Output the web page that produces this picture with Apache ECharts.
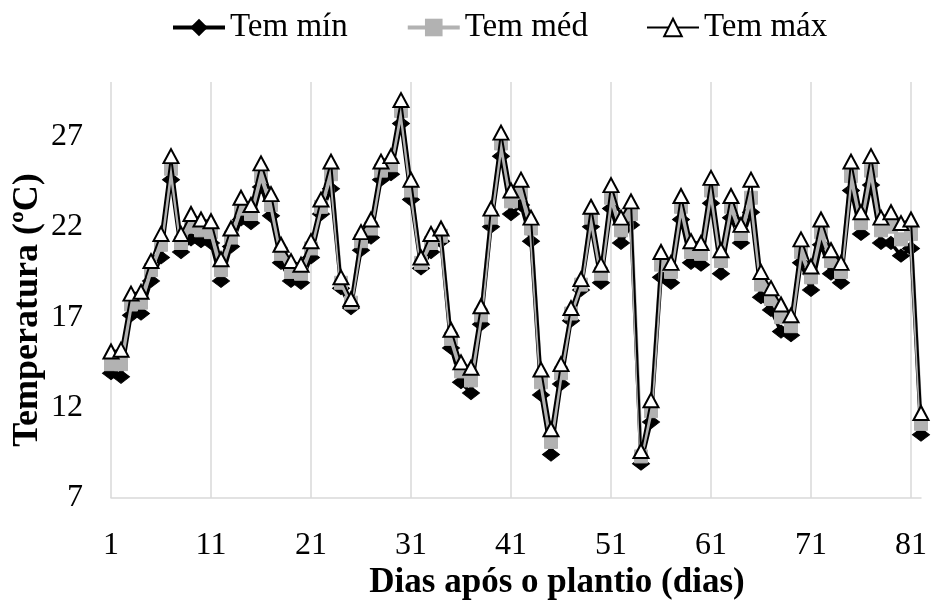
<!DOCTYPE html>
<html>
<head>
<meta charset="utf-8">
<script src="https://cdn.jsdelivr.net/npm/echarts@6/dist/echarts.min.js"></script>
<style>html,body{margin:0;padding:0;background:#fff;}#c{width:931px;height:604px;}</style>
</head>
<body>
<div id="c"></div>
<script>
const days = Array.from({length: 82}, (_, i) => String(i + 1));
const temMin = [13.9,13.7,17.1,17.2,19.0,20.3,24.6,20.6,21.3,21.2,21.1,19.0,20.9,22.4,22.2,24.2,22.6,20.0,19.0,18.9,20.3,22.7,24.1,18.6,17.5,20.7,21.4,24.6,24.9,27.7,23.5,19.7,20.6,21.2,15.3,13.4,12.8,16.6,22.0,25.9,22.7,23.2,21.2,12.7,9.4,13.3,16.8,18.5,22.0,18.9,23.0,21.1,22.1,8.9,11.2,19.2,18.9,22.4,20.0,19.9,23.3,19.4,22.5,21.1,22.8,18.1,17.4,16.2,16.0,20.0,18.5,21.0,19.4,18.9,24.0,21.6,24.3,21.1,21.1,20.4,20.8,10.5];
const temMed = [14.4,14.4,17.7,17.8,19.6,21.0,25.2,21.1,22.0,21.8,21.7,19.6,21.4,23.0,22.7,24.8,23.2,20.5,19.5,19.4,20.8,23.1,24.9,18.9,17.8,21.2,21.9,25.1,25.4,28.4,24.0,20.0,21.1,21.5,15.8,14.0,13.5,17.1,22.5,26.6,23.4,23.9,21.9,13.4,10.1,13.9,17.2,18.8,22.5,19.4,23.6,21.8,22.7,9.3,11.8,19.9,19.5,23.1,20.6,20.5,24.0,20.1,23.1,21.6,23.6,18.8,18.0,17.0,16.5,20.6,19.2,21.7,20.1,19.5,24.8,22.2,25.1,21.8,22.0,21.3,21.6,11.1];
const temMax = [15.1,15.2,18.3,18.4,20.1,21.6,25.9,21.6,22.7,22.4,22.3,20.2,21.9,23.6,23.2,25.5,23.8,21.0,20.1,19.9,21.2,23.5,25.6,19.2,18.0,21.7,22.4,25.6,25.9,29.0,24.6,20.3,21.6,21.9,16.3,14.5,14.2,17.6,23.0,27.2,24.0,24.6,22.5,14.1,10.8,14.4,17.5,19.1,23.1,19.9,24.3,22.5,23.4,9.6,12.4,20.6,20.0,23.7,21.2,21.1,24.7,20.7,23.7,22.1,24.6,19.5,18.6,17.7,17.1,21.3,19.8,22.4,20.7,20.0,25.6,22.8,25.9,22.5,22.8,22.2,22.4,11.7];
const seriesNames = ['Tem mín', 'Tem méd', 'Tem máx'];
const yTitle = 'Temperatura (ºC)';
const xTitle = 'Dias após o plantio (dias)';

const FONT = '"Liberation Serif", "Times New Roman", serif';
const chart = echarts.init(document.getElementById('c'), null, {renderer: 'canvas'});
chart.setOption({
  animation: false,
  backgroundColor: '#fff',
  legend: {
    top: 6,
    left: 166,
    itemWidth: 52,
    itemHeight: 22,
    itemGap: 58,
    textStyle: {fontFamily: FONT, fontSize: 33, color: '#000'},
    data: [
      {name: seriesNames[0], lineStyle: {width: 4, color: '#000'}},
      {name: seriesNames[1], lineStyle: {width: 4, color: '#B2B2B2'}},
      {name: seriesNames[2], lineStyle: {width: 2, color: '#000'}}
    ]
  },
  grid: {left: 111, right: 10, top: 82, bottom: 106, containLabel: false},
  xAxis: {
    type: 'category',
    data: days,
    boundaryGap: false,
    axisLine: {show: true, lineStyle: {color: '#D9D9D9', width: 1.5}},
    axisTick: {show: false},
    axisLabel: {
      interval: (i) => i % 10 === 0,
      fontFamily: FONT, fontSize: 32, color: '#000', margin: 32
    },
    splitLine: {show: true, interval: (i) => i % 10 === 0, lineStyle: {color: '#D9D9D9', width: 1.5}}
  },
  yAxis: {
    type: 'value',
    min: 7, max: 30, interval: 5,
    axisLine: {show: false},
    axisTick: {show: false},
    splitLine: {show: false},
    axisLabel: {fontFamily: FONT, fontSize: 32, color: '#000', margin: 28, showMaxLabel: false}
  },
  graphic: [
    {type: 'text', x: 28, y: 310, rotation: Math.PI / 2,
     style: {text: yTitle, fontFamily: FONT, fontSize: 36, fontWeight: 'bold', fill: '#000', textAlign: 'center', textVerticalAlign: 'middle'}},
    {type: 'text', x: 557, y: 583,
     style: {text: xTitle, fontFamily: FONT, fontSize: 35, fontWeight: 'bold', fill: '#000', textAlign: 'center', textVerticalAlign: 'middle'}}
  ],
  series: [
    {name: seriesNames[0], type: 'line', data: temMin, symbol: 'diamond', symbolSize: [17, 13], showAllSymbol: true,
     lineStyle: {color: '#000', width: 3.5}, itemStyle: {color: '#000', borderColor: '#000'}, z: 2},
    {name: seriesNames[1], type: 'line', data: temMed, symbol: 'rect', symbolSize: [13, 13], showAllSymbol: true,
     lineStyle: {color: '#B2B2B2', width: 4}, itemStyle: {color: '#B2B2B2', borderColor: '#B2B2B2'}, z: 3},
    {name: seriesNames[2], type: 'line', data: temMax, symbol: 'triangle', symbolSize: [15, 14], showAllSymbol: true,
     lineStyle: {color: '#000', width: 2}, itemStyle: {color: '#fff', borderColor: '#000', borderWidth: 2}, z: 4}
  ]
});
</script>
</body>
</html>
